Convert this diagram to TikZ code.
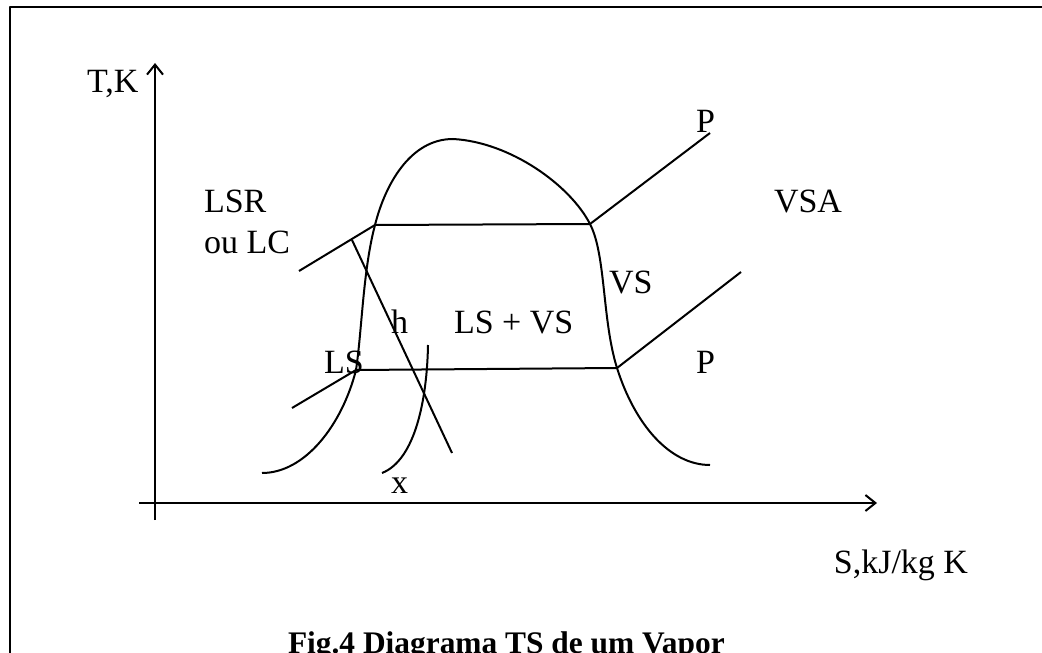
\documentclass[tikz,border=0pt]{standalone}
\usepackage{fontspec}
\setmainfont{Liberation Serif}
\usetikzlibrary{arrows.meta}

\begin{document}
\begin{tikzpicture}[x=0.5pt, y=-0.5pt, line width=1pt, line join=round,
    txt/.style={font=\fontsize{17}{20}\selectfont, inner sep=0pt, anchor=base west},
    axis/.style={-{Straight Barb[length=5pt,width=8pt]}}]
    \useasboundingbox (0,0) rectangle (1042,652);
    \clip (0,0) rectangle (1042,652);

    % Frame (runs off the page at right and bottom)
    \draw[line width=1.2pt] (10,7) rectangle (1120,720);

    % Axes
    \coordinate (ybot) at (155,520);
    \coordinate (ytop) at (155,63);
    \coordinate (xleft) at (139,503);
    \coordinate (xright) at (877,503);
    \draw[axis] (ybot) -- (ytop);
    \draw[axis] (xleft) -- (xright);
    \node[txt] (tlabel) at (86,93) {T,K};
    \node[txt, anchor=base east] (slabel) at (969,573) {S,kJ/kg K};

    % Isobar end points on the dome
    \coordinate (hiL) at (375,225);
    \coordinate (hiR) at (590,224);
    \coordinate (loL) at (356,370);
    \coordinate (loR) at (617,368);

    % Saturation dome
    \draw (262,473) .. controls (305,473) and (342,425) .. (loL)
        .. controls (362,330) and (363,270) .. (hiL)
        .. controls (385,185) and (410,139) .. (453,139)
        .. controls (510,142) and (570,185) .. (hiR)
        .. controls (606,255) and (602,320) .. (loR)
        .. controls (635,425) and (670,465) .. (710,465);

    % Isobars
    \coordinate (hiA) at (299,271);
    \coordinate (hiB) at (710,133);
    \coordinate (loA) at (292,408);
    \coordinate (loB) at (741,272);
    \draw (hiA) -- (hiL) -- (hiR) -- (hiB);
    \draw (loA) -- (loL) -- (loR) -- (loB);

    % Constant enthalpy line
    \coordinate (h1) at (352,240);
    \coordinate (h2) at (452,453);
    \draw (h1) -- (h2);

    % Constant quality line
    \coordinate (x1) at (428,345);
    \coordinate (x2) at (382,473);
    \draw (x1) .. controls (427,400) and (415,460) .. (x2);

    % Labels
    \node[txt] (lsr) at (203,213) {LSR};
    \node[txt] (oulc) at (203,253) {ou LC};
    \node[txt] (hname) at (390,333) {h};
    \node[txt] (mix) at (453,333) {LS + VS};
    \node[txt] (ls) at (323,373) {LS};
    \node[txt] (vs) at (608,293) {VS};
    \node[txt] (ptop) at (695,133) {P};
    \node[txt] (plow) at (695,373) {P};
    \node[txt] (vsa) at (773,213) {VSA};
    \node[txt] (xname) at (390,493) {x};

    % Caption
    \node[txt, font=\fontsize{15.7}{19}\selectfont\bfseries] (caption) at (287,653)
        {Fig.4 Diagrama TS de um Vapor};
\end{tikzpicture}
\end{document}
